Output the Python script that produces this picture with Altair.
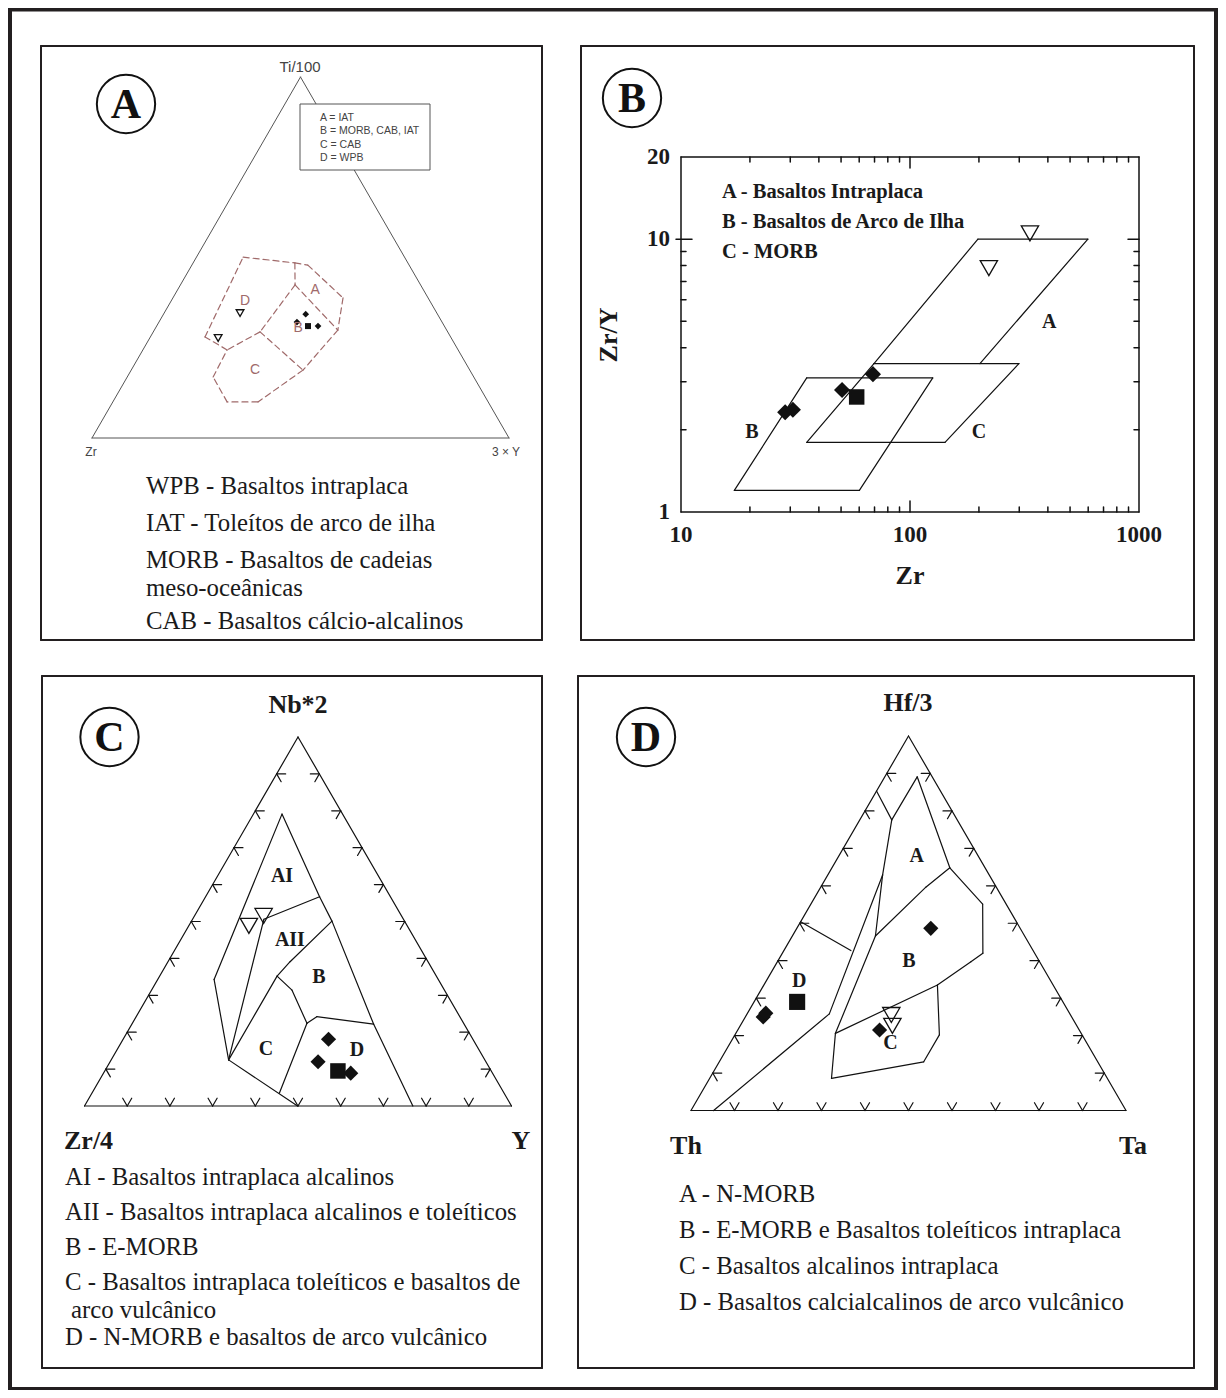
import math
import altair as alt
import pandas as pd

# ====================== DATA ======================
# ---- Panel A : Ti/100 - Zr - 3*Y  (values in %: top = Ti/100, right = 3*Y)
A_NODES = {
    'p1': (50.1, 11.2), 'p2': (48.5, 24.4), 'p2b': (42.4, 27.5), 'p3': (47.9, 27.8),
    'p4': (38.8, 40.8), 'p5': (29.9, 44.0), 'p6': (18.8, 41.2), 'p7': (10.0, 34.8),
    'p8': (10.0, 27.4), 'p9': (16.9, 20.6), 'p10': (24.4, 20.2), 'p11': (28.0, 13.1),
    'p12': (29.4, 25.6),
}
A_PATHS = [['p1', 'p2', 'p3', 'p4', 'p5', 'p6', 'p7', 'p8', 'p9', 'p10', 'p11', 'p1'],
           ['p2', 'p2b'], ['p2b', 'p12'], ['p12', 'p10'], ['p2b', 'p5'], ['p12', 'p6']]
A_FIELD_NAMES = ['A', 'B', 'C', 'D']
A_FIELD_POS = [(41.0, 33.0), (30.5, 34.2), (18.8, 29.7), (38.0, 17.7)]
A_TRI = [(34.6, 18.2), (27.7, 16.4)]
A_DIA = [(34.3, 34.1), (32.1, 33.1), (31.0, 38.7)]
A_SQ = [(31.0, 36.3)]
A_VERTEX = ['Ti/100', 'Zr', '3 × Y']
A_LEGEND = ['A = IAT', 'B = MORB, CAB, IAT', 'C = CAB', 'D = WPB']
A_NOTES = ['WPB - Basaltos intraplaca', 'IAT - Toleítos de arco de ilha',
           'MORB - Basaltos de cadeias', 'meso-oceânicas', 'CAB - Basaltos cálcio-alcalinos']

# ---- Panel B : Zr vs Zr/Y (log-log)
B_X_LABELS = [10, 100, 1000]
B_Y_LABELS = [1, 10, 20]
B_FIELD_A = [(69.6, 3.5), (198, 10), (598, 10), (202, 3.5)]
B_FIELD_B = [(17.1, 1.2), (35.4, 3.1), (125.7, 3.1), (60.1, 1.2), (17.1, 1.2)]
B_FIELD_C = [(35.4, 1.8), (69.6, 3.5), (299, 3.5), (142.2, 1.8), (35.4, 1.8)]
B_FIELD_NAMES = ['A', 'B', 'C']
B_FIELD_POS = [(405, 4.98), (20.4, 1.97), (200, 1.97)]
B_DIA_ZR = [28.5, 30.8, 50.5, 68.9]
B_DIA_ZRY = [2.32, 2.37, 2.80, 3.20]
B_SQ_ZR = [58.5]
B_SQ_ZRY = [2.64]
B_TRI_ZR = [334, 221]
B_TRI_ZRY = [10.5, 7.83]
B_LEGEND = ['A - Basaltos Intraplaca', 'B - Basaltos de Arco de Ilha', 'C - MORB']

# ---- Panel C : Nb*2 - Zr/4 - Y  (top = Nb*2, right = Y)
C_NODES = {
    'ap': (79.1, 6.7), 'c1': (34.3, 13.2), 'c2': (12.5, 27.5), 'c3': (0.0, 49.9),
    'c4': (22.2, 56.6), 'c5': (0.0, 76.9), 'c6': (50.1, 32.9), 'c7': (56.7, 26.7),
    'c8': (50.6, 16.7), 'c9': (39.1, 28.6), 'c10': (35.2, 27.5), 'c11': (31.4, 32.9),
    'c12': (22.4, 40.9), 'c13': (24.2, 42.3), 'c14': (3.5, 43.9),
}
C_PATHS = [['ap', 'c1', 'c2', 'c3'], ['ap', 'c7', 'c6', 'c4', 'c5'], ['c8', 'c7'],
           ['c8', 'c2'], ['c6', 'c9', 'c10', 'c2'], ['c10', 'c11', 'c12'],
           ['c12', 'c13', 'c4'], ['c12', 'c14']]
C_FIELD_NAMES = ['AI', 'AII', 'B', 'C', 'D']
C_FIELD_POS = [(62.3, 15.1), (45.0, 25.6), (35.0, 37.4), (15.4, 34.8), (15.2, 56.2)]
C_TRI = [(48.8, 14.1), (51.5, 16.2)]
C_DIA = [(18.1, 48.1), (12.0, 48.7), (8.9, 57.9)]
C_SQ = [(9.5, 54.6)]
C_VERTEX = ['Nb*2', 'Zr/4', 'Y']
C_NOTES = ['AI - Basaltos intraplaca alcalinos',
           'AII - Basaltos intraplaca alcalinos e toleíticos',
           'B - E-MORB',
           'C - Basaltos intraplaca toleíticos e basaltos de',
           'arco vulcânico',
           'D - N-MORB e basaltos de arco vulcânico']

# ---- Panel D : Hf/3 - Th - Ta  (top = Hf/3, right = Ta)
D_NODES = {
    'd1': (85.3, 0.0), 'd2': (77.6, 7.35), 'd3': (89.1, 7.45), 'd4': (64.8, 27.1),
    'd5': (50.4, 0.0), 'd6': (42.7, 15.4), 'd7': (25.8, 18.9), 'd8': (0.0, 5.2),
    'g1': (62.9, 12.6),
    'f1': (46.6, 19.1), 'f2': (20.6, 22.9), 'f3': (8.6, 28.0), 'f4': (13.0, 47.0),
    'f5': (20.2, 47.0), 'f6': (33.5, 39.9), 'f7': (39.7, 44.5), 'f8': (42.0, 46.1),
    'f9': (55.1, 39.5), 'f10': (59.7, 24.2),
}
D_PATHS = [['d1', 'd2', 'd3', 'd4'],
           ['d2', 'g1', 'f1', 'f2', 'f3', 'f4', 'f5', 'f6'],
           ['g1', 'd7', 'd8'], ['d5', 'd6'],
           ['f2', 'f6', 'f7', 'f8', 'f9', 'd4'],
           ['d4', 'f10', 'f1']]
D_FIELD_NAMES = ['A', 'B', 'C', 'D']
D_FIELD_POS = [(68.0, 17.9), (40.0, 30.1), (18.1, 36.8), (34.6, 7.6)]
D_TRI = [(25.5, 33.3), (22.6, 35.0)]
D_DIA = [(48.65, 30.8), (25.0, 4.1), (26.0, 4.2), (21.5, 32.6)]
D_SQ = [(29.0, 9.9)]
D_VERTEX = ['Hf/3', 'Th', 'Ta']
D_NOTES = ['A - N-MORB', 'B - E-MORB e Basaltos toleíticos intraplaca',
           'C - Basaltos alcalinos intraplaca',
           'D - Basaltos calcialcalinos de arco vulcânico']

TERN_TICKS = [10, 20, 30, 40, 50, 60, 70, 80, 90]

# ====================== LAYOUT (page pixels) ======================
X0, X1, Y0, Y1 = 8, 1218, 8, 1390
INK = '#231f20'
SERIF = 'Liberation Serif'
SANS = 'Liberation Sans'
BROWN = '#a06a6a'
NOTE_SIZE = 24.8

BOXES = {'A': (41, 46, 542, 640), 'B': (581, 46, 1194, 640),
         'C': (42, 676, 542, 1368), 'D': (578, 676, 1194, 1368)}
TRI = {'A': ((92, 438), (509, 438), (300.5, 77)),
       'C': ((84.5, 1106), (511.5, 1106), (298, 737)),
       'D': ((691, 1110.5), (1126, 1110.5), (908.5, 736))}
CIRCLES = {'A': (126, 104), 'B': (632, 98), 'C': (109.5, 737), 'D': (646, 737)}
BX0, BX1, BY0, BY1 = 681, 1139, 512, 157
BDX = (BX1 - BX0) / 2.0
BDY = (BY0 - BY1) / math.log10(20)


def tern(p, top, right):
    (lx, ly), (rx, ry), (tx, ty) = TRI[p]
    a, b = top / 100.0, right / 100.0
    c = 1 - a - b
    return (c * lx + b * rx + a * tx, c * ly + b * ry + a * ty)


def bxy(zr, zry):
    return (BX0 + (math.log10(zr) - 1) * BDX, BY0 - math.log10(zry) * BDY)


def segs(pts):
    return [dict(x=p[0], y=p[1], x2=q[0], y2=q[1]) for p, q in zip(pts[:-1], pts[1:])]


# ---------- build tables ----------
frame_segs, thin_segs, dash_segs, grey_segs, axis_segs = [], [], [], [], []

for k, (l, t, r, b) in BOXES.items():
    frame_segs += segs([(l, t), (r, t), (r, b), (l, b), (l, t)])

# Panel A
L, R, T = TRI['A']
grey_segs += segs([L, R, T, L])
for path in A_PATHS:
    dash_segs += segs([tern('A', *A_NODES[n]) for n in path])

# Panel B
axis_segs += segs([(BX0, BY0), (BX1, BY0), (BX1, BY1), (BX0, BY1), (BX0, BY0)])
for path in (B_FIELD_A, B_FIELD_B, B_FIELD_C):
    thin_segs += segs([bxy(*p) for p in path])
for dec in (10, 100):
    for m in range(2, 10):
        x, _ = bxy(dec * m, 1)
        axis_segs += segs([(x, BY0), (x, BY0 - 5)]) + segs([(x, BY1), (x, BY1 + 5)])
x, _ = bxy(100, 1)
axis_segs += segs([(x, BY0), (x, BY0 - 11)]) + segs([(x, BY1), (x, BY1 + 11)])
for m in range(2, 10):
    _, y = bxy(10, m)
    axis_segs += segs([(BX0, y), (BX0 + 5, y)]) + segs([(BX1, y), (BX1 - 5, y)])
_, y = bxy(10, 10)
axis_segs += segs([(BX0 - 5, y), (BX0 + 11, y)]) + segs([(BX1, y), (BX1 - 11, y)])


# Panels C and D
def unit(p, q):
    dx, dy = q[0] - p[0], q[1] - p[1]
    n = math.hypot(dx, dy)
    return dx / n, dy / n


for p, nodes, paths in (('C', C_NODES, C_PATHS), ('D', D_NODES, D_PATHS)):
    L, R, T = TRI[p]
    thin_segs += segs([L, R, T, L])
    for path in paths:
        thin_segs += segs([tern(p, *nodes[n]) for n in path])
    dLT, dRT, dTR, dTL, dLR, dRL = unit(L, T), unit(R, T), unit(T, R), unit(T, L), unit(L, R), unit(R, L)
    ln = 9
    for v in TERN_TICKS:
        t = v / 100.0
        for base, dirs in (((L[0] + t * (R[0] - L[0]), L[1]), (dLT, dRT)),
                           ((L[0] + t * (T[0] - L[0]), L[1] + t * (T[1] - L[1])), (dLR, dTR)),
                           ((R[0] + t * (T[0] - R[0]), R[1] + t * (T[1] - R[1])), (dRL, dTL))):
            for d in dirs:
                thin_segs += segs([base, (base[0] + ln * d[0], base[1] + ln * d[1])])

# points
pts_rows = []


def add_pts(shape, size, xy_list):
    for x, y in xy_list:
        pts_rows.append(dict(x=x, y=y, shape=shape, s=size))


add_pts('tri', 60, [tern('A', *v) for v in A_TRI])
add_pts('dia', 45, [tern('A', *v) for v in A_DIA])
add_pts('sq', 36, [tern('A', *v) for v in A_SQ])
add_pts('tri', 300, [bxy(a, b) for a, b in zip(B_TRI_ZR, B_TRI_ZRY)])
add_pts('dia', 260, [bxy(a, b) for a, b in zip(B_DIA_ZR, B_DIA_ZRY)])
add_pts('sq', 240, [bxy(a, b) for a, b in zip(B_SQ_ZR, B_SQ_ZRY)])
add_pts('tri', 300, [tern('C', *v) for v in C_TRI])
add_pts('dia', 230, [tern('C', *v) for v in C_DIA])
add_pts('sq', 240, [tern('C', *v) for v in C_SQ])
add_pts('tri', 300, [tern('D', *v) for v in D_TRI])
add_pts('dia', 230, [tern('D', *v) for v in D_DIA])
add_pts('sq', 260, [tern('D', *v) for v in D_SQ])
pts = pd.DataFrame(pts_rows)

texts = []


def add_text(t, x, y, font=SERIF, size=22, weight='normal', color='#1a1a1a', align='left', angle=0):
    texts.append(dict(t=t, x=x, y=y, font=font, size=size, weight=weight, color=color,
                      align=align, angle=angle))


for k, (cx, cy) in CIRCLES.items():
    add_text(k, cx, cy + 1, size=42, weight='bold', color='#111', align='center')

# A
add_text(A_VERTEX[0], 300, 67, font=SANS, size=15, color='#444', align='center')
add_text(A_VERTEX[1], 91, 452, font=SANS, size=12, color='#444', align='center')
add_text(A_VERTEX[2], 506, 452, font=SANS, size=12, color='#444', align='center')
for i, t in enumerate(A_LEGEND):
    add_text(t, 320, 118 + i * 13.3, font=SANS, size=10.5, color='#444')
for t, (a, b) in zip(A_FIELD_NAMES, A_FIELD_POS):
    x, y = tern('A', a, b)
    add_text(t, x, y, font=SANS, size=14, color=BROWN, align='center')
for t, y in zip(A_NOTES, [487, 524, 561, 589, 622]):
    add_text(t, 146, y, size=NOTE_SIZE)
# B
for i, t in enumerate(B_LEGEND):
    add_text(t, 722, 192 + i * 30, size=20.5, weight='bold')
for t, (a, b) in zip(B_FIELD_NAMES, B_FIELD_POS):
    x, y = bxy(a, b)
    add_text(t, x, y, size=20, weight='bold', align='center')
for v in B_X_LABELS:
    x, _ = bxy(v, 1)
    add_text(str(v), x, 535, size=23, weight='bold', align='center')
for v in B_Y_LABELS:
    _, y = bxy(10, v)
    add_text(str(v), 670, y, size=23, weight='bold', align='right')
add_text('Zr', 910, 576, size=26, weight='bold', align='center')
add_text('Zr/Y', 609, 335, size=26, weight='bold', align='center', angle=270)
# C
add_text(C_VERTEX[0], 298, 705, size=26, weight='bold', align='center')
add_text(C_VERTEX[1], 64, 1141, size=26, weight='bold')
add_text(C_VERTEX[2], 521, 1141, size=26, weight='bold', align='center')
for t, (a, b) in zip(C_FIELD_NAMES, C_FIELD_POS):
    x, y = tern('C', a, b)
    add_text(t, x, y, size=20, weight='bold', align='center')
for t, x, y in zip(C_NOTES, [65, 65, 65, 65, 71, 65], [1178, 1213, 1248, 1283, 1311, 1338]):
    add_text(t, x, y, size=NOTE_SIZE)
# D
add_text(D_VERTEX[0], 908, 703, size=26, weight='bold', align='center')
add_text(D_VERTEX[1], 686, 1146, size=26, weight='bold', align='center')
add_text(D_VERTEX[2], 1133, 1146, size=26, weight='bold', align='center')
for t, (a, b) in zip(D_FIELD_NAMES, D_FIELD_POS):
    x, y = tern('D', a, b)
    add_text(t, x, y, size=20, weight='bold', align='center')
for t, y in zip(D_NOTES, [1195, 1231, 1267, 1303]):
    add_text(t, 679, y, size=NOTE_SIZE)
tx = pd.DataFrame(texts)

# ====================== CHART ======================
xs = alt.Scale(domain=[X0, X1], nice=False, zero=False)
ys = alt.Scale(domain=[Y0, Y1], nice=False, zero=False, reverse=True)
X = alt.X('x:Q', scale=xs, axis=None)
Y = alt.Y('y:Q', scale=ys, axis=None)


def rule_layer(rows, **kw):
    return alt.Chart(pd.DataFrame(rows)).mark_rule(strokeCap='round', **kw).encode(
        x=X, y=Y, x2='x2:Q', y2='y2:Q')


outer = alt.Chart(pd.DataFrame([dict(x=10, y=9.5, x2=1216, y2=1389)])).mark_rect(
    fillOpacity=0, stroke=INK, strokeWidth=4).encode(x=X, y=Y, x2='x2:Q', y2='y2:Q')

legend_box = alt.Chart(pd.DataFrame([dict(x=300, y=104, x2=430, y2=170)])).mark_rect(
    fill='white', stroke='#555', strokeWidth=1).encode(x=X, y=Y, x2='x2:Q', y2='y2:Q')

circ = alt.Chart(pd.DataFrame([dict(x=v[0], y=v[1]) for v in CIRCLES.values()])).mark_point(
    shape='circle', filled=False, size=3400, strokeWidth=2, color='#111', opacity=1).encode(x=X, y=Y)

S = alt.Size('s:Q', scale=None)
dia = alt.Chart(pts[pts['shape'] == 'dia']).mark_point(
    shape='diamond', filled=True, color='#111', opacity=1).encode(x=X, y=Y, size=S)
sq = alt.Chart(pts[pts['shape'] == 'sq']).mark_point(
    shape='square', filled=True, color='#111', opacity=1).encode(x=X, y=Y, size=S)
tri = alt.Chart(pts[pts['shape'] == 'tri']).mark_point(
    shape='triangle-down', filled=False, color='#111', strokeWidth=1.3, opacity=1).encode(x=X, y=Y, size=S)

text_layers = []
for key, g in tx.groupby(['font', 'size', 'weight', 'color', 'align', 'angle']):
    font, size, weight, color, align, angle = key
    text_layers.append(alt.Chart(g).mark_text(
        font=font, fontSize=float(size), fontWeight=weight, color=color, align=align,
        baseline='middle', angle=float(angle)).encode(x=X, y=Y, text='t:N'))

chart = alt.layer(
    rule_layer(grey_segs, color='#555', strokeWidth=1),
    legend_box,
    rule_layer(dash_segs, color=BROWN, strokeWidth=1.2, strokeDash=[6, 4]),
    rule_layer(thin_segs, color='#111', strokeWidth=1.2),
    rule_layer(axis_segs, color='#111', strokeWidth=1.5),
    rule_layer(frame_segs, color=INK, strokeWidth=2),
    outer,
    circ, tri, dia, sq,
    *text_layers,
).properties(
    width=X1 - X0, height=Y1 - Y0, padding=0,
    autosize=alt.AutoSizeParams(type='none'),
    background='white',
).configure_view(stroke='transparent')

chart.save('out.html', embed_options={'renderer': 'svg', 'actions': False})
